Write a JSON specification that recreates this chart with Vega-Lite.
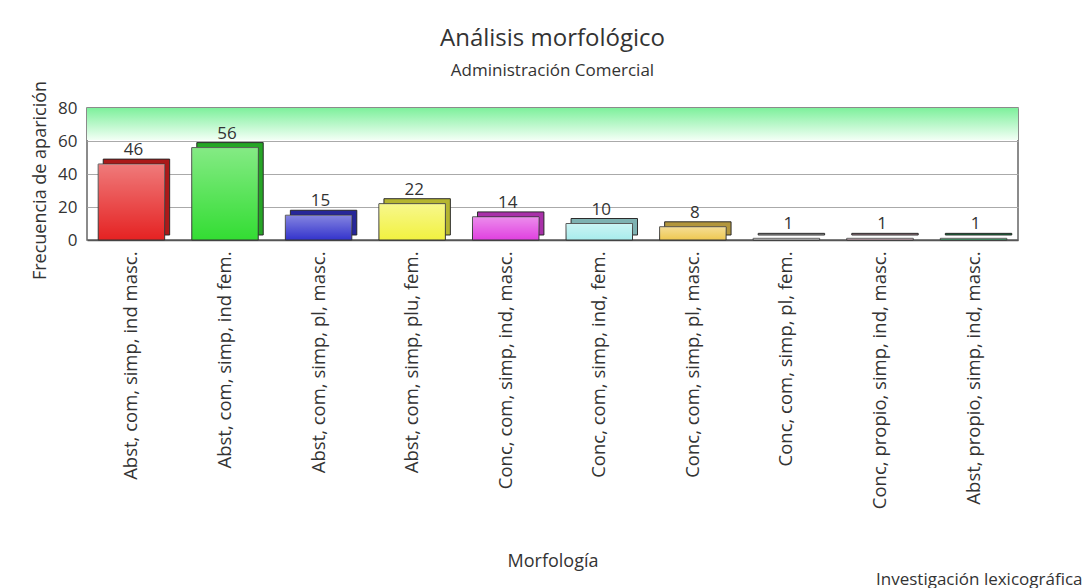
{
  "$schema": "https://vega.github.io/schema/vega-lite/v6.json",
  "autosize": "none",
  "width": 931,
  "height": 132,
  "padding": {"left": 87, "top": 108, "right": 66, "bottom": 348},
  "background": "white",
  "title": {
    "text": "Análisis morfológico",
    "subtitle": "Administración Comercial",
    "anchor": "middle",
    "frame": "group",
    "font": "Open Sans",
    "fontSize": 24,
    "fontWeight": "normal",
    "color": "#333333",
    "subtitleFont": "Open Sans",
    "subtitleFontSize": 17,
    "subtitleColor": "#333333",
    "subtitlePadding": 12,
    "offset": 1
  },
  "data": {
    "values": [
      {"morfologia": "Abst, com, simp, ind masc.", "frecuencia": 46},
      {"morfologia": "Abst, com, simp, ind fem.", "frecuencia": 56},
      {"morfologia": "Abst, com, simp, pl, masc.", "frecuencia": 15},
      {"morfologia": "Abst, com, simp, plu, fem.", "frecuencia": 22},
      {"morfologia": "Conc, com, simp, ind, masc.", "frecuencia": 14},
      {"morfologia": "Conc, com, simp, ind, fem.", "frecuencia": 10},
      {"morfologia": "Conc, com, simp, pl, masc.", "frecuencia": 8},
      {"morfologia": "Conc, com, simp, pl, fem.", "frecuencia": 1},
      {"morfologia": "Conc, propio, simp, ind, masc.", "frecuencia": 1},
      {"morfologia": "Abst, propio, simp, ind, masc.", "frecuencia": 1}
    ]
  },
  "resolve": {"axis": {"x": "independent"}},
  "layer": [
    {
      "mark": {
        "type": "rect",
        "color": {
          "gradient": "linear", "x1": 0, "y1": 0, "x2": 0, "y2": 1,
          "stops": [
            {"offset": 0, "color": "#7ef09c"},
            {"offset": 1, "color": "#f2fff5"}
          ]
        }
      },
      "encoding": {
        "y": {
          "datum": 80,
          "type": "quantitative",
          "scale": {"domain": [0, 80]},
          "axis": {"title": "Frecuencia de aparición"}
        },
        "y2": {"datum": 60.6}
      }
    },
    {
      "mark": {"type": "bar", "xOffset": 5, "yOffset": -5, "stroke": "#333333", "strokeWidth": 1},
      "encoding": {
        "x": {"field": "morfologia", "type": "nominal", "sort": null, "axis": null,
              "scale": {"paddingInner": 0.29, "paddingOuter": 0.12}},
        "y": {"field": "frecuencia", "type": "quantitative", "axis": {"title": "Frecuencia de aparición"}},
        "color": {
          "field": "morfologia", "type": "nominal", "legend": null,
          "scale": {
            "domain": ["Abst, com, simp, ind masc.", "Abst, com, simp, ind fem.", "Abst, com, simp, pl, masc.", "Abst, com, simp, plu, fem.", "Conc, com, simp, ind, masc.", "Conc, com, simp, ind, fem.", "Conc, com, simp, pl, masc.", "Conc, com, simp, pl, fem.", "Conc, propio, simp, ind, masc.", "Abst, propio, simp, ind, masc."],
            "range": ["#e52222", "#33dd33", "#3333cc", "#f2f240", "#e040e0", "#a8ecec", "#eec850", "#e8e8e8", "#e8b8c8", "#1faa5a"]
          }
        }
      }
    },
    {
      "mark": {"type": "bar", "xOffset": 5, "yOffset": -5, "color": "black", "opacity": 0.25},
      "encoding": {
        "x": {"field": "morfologia", "type": "nominal", "sort": null, "axis": null},
        "y": {"field": "frecuencia", "type": "quantitative", "axis": {"title": "Frecuencia de aparición"}}
      }
    },
    {
      "mark": {"type": "bar", "stroke": "#333333", "strokeWidth": 1},
      "encoding": {
        "x": {"field": "morfologia", "type": "nominal", "sort": null,
              "axis": {
                "title": "Morfología",
                "orient": "bottom",
                "labelAngle": 270,
                "labelAlign": "right",
                "labelBaseline": "middle",
                "labelPadding": 11,
                "labelLimit": 320,
                "labelFontSize": 18.5,
                "ticks": false,
                "domain": true,
                "domainColor": "#555555",
                "domainWidth": 1.5,
                "titleY": 326,
                "titleFontSize": 18,
                "titleBaseline": "alphabetic"
              }},
        "y": {"field": "frecuencia", "type": "quantitative", "axis": {"title": "Frecuencia de aparición"}},
        "color": {"field": "morfologia", "type": "nominal", "legend": null}
      }
    },
    {
      "mark": {
        "type": "bar",
        "color": {
          "gradient": "linear", "x1": 0, "y1": 0, "x2": 0, "y2": 1,
          "stops": [
            {"offset": 0, "color": "rgba(255,255,255,0.4)"},
            {"offset": 1, "color": "rgba(255,255,255,0)"}
          ]
        }
      },
      "encoding": {
        "x": {"field": "morfologia", "type": "nominal", "sort": null,
              "axis": {
                "title": "Investigación lexicográfica",
                "orient": "top",
                "labels": false,
                "ticks": false,
                "domain": false,
                "grid": false,
                "titleAnchor": "end",
                "titleAlign": "right",
                "titleX": 995,
                "titleY": 476,
                "titleFontSize": 17,
                "titleBaseline": "alphabetic"
              }},
        "y": {"field": "frecuencia", "type": "quantitative", "axis": {"title": "Frecuencia de aparición"}}
      }
    },
    {
      "mark": {"type": "text", "dy": -14, "fontSize": 17, "font": "Open Sans", "color": "#333333", "dx": 2},
      "encoding": {
        "x": {"field": "morfologia", "type": "nominal", "sort": null, "axis": null},
        "y": {"field": "frecuencia", "type": "quantitative", "axis": {"title": "Frecuencia de aparición"}},
        "text": {"field": "frecuencia", "type": "quantitative"}
      }
    }
  ],
  "config": {
    "view": {"stroke": "#666666", "strokeWidth": 1.5},
    "font": "Open Sans",
    "axis": {
      "labelFont": "Open Sans",
      "labelFontSize": 17,
      "labelColor": "#333333",
      "titleFont": "Open Sans",
      "titleFontSize": 18,
      "titleFontWeight": "normal",
      "titleColor": "#333333"
    },
    "axisX": {"grid": false},
    "axisY": {
      "tickCount": 4,
      "labelOverlap": false,
      "ticks": false,
      "domain": false,
      "labelPadding": 10,
      "titlePadding": 8,
      "titleY": 72,
      "grid": true,
      "gridColor": "#aaaaaa",
      "gridWidth": 1
    }
  }
}
